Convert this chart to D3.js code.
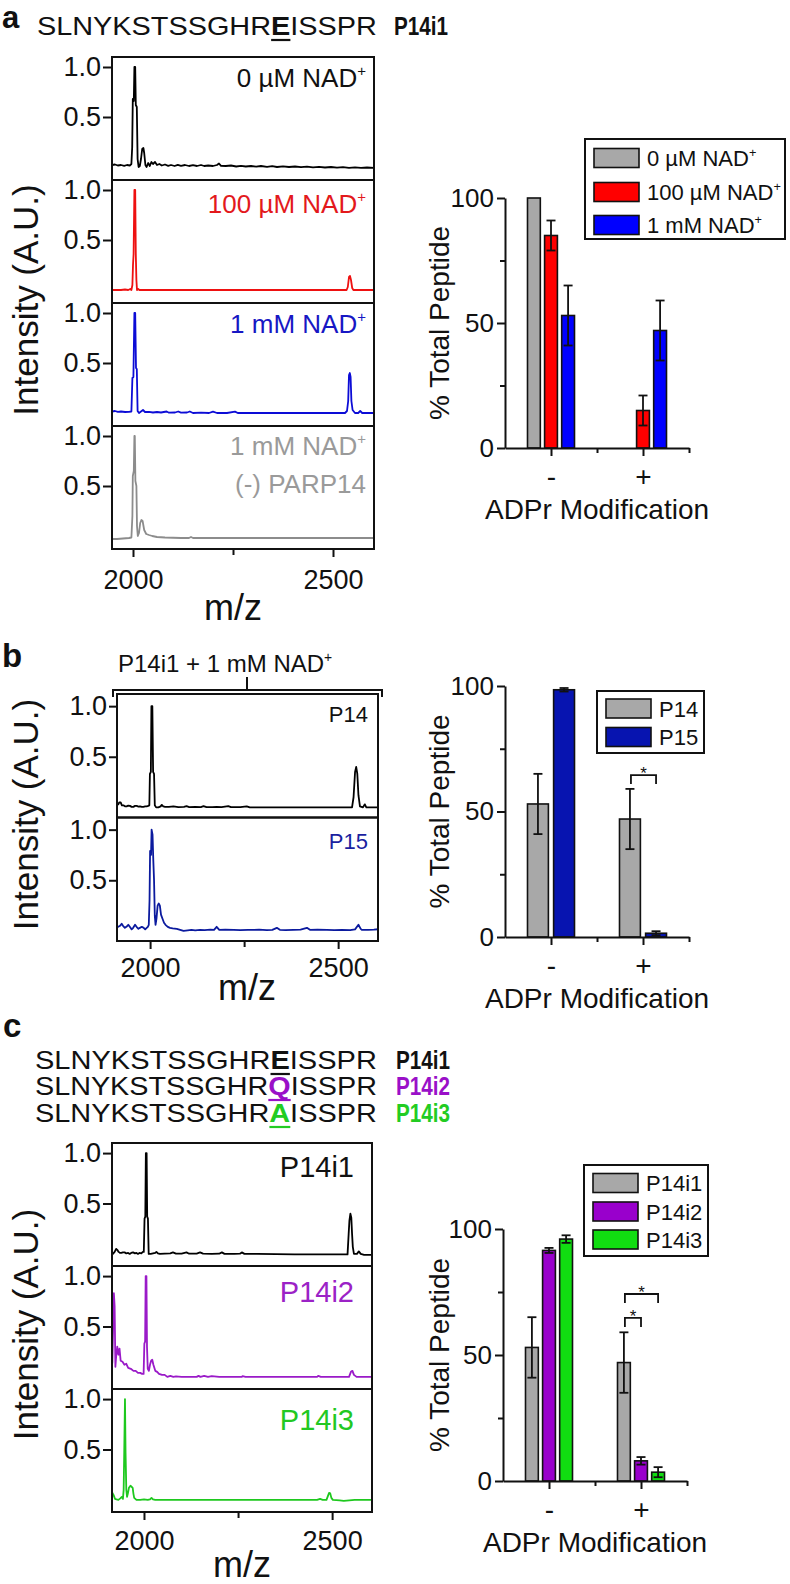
<!DOCTYPE html>
<html><head><meta charset="utf-8">
<script src="https://cdn.jsdelivr.net/npm/d3@7"></script>
<style>body{margin:0;background:#fff} svg{display:block} text{font-family:'Liberation Sans',Arial,Helvetica,sans-serif}</style>
</head><body><svg id="chart" width="790" height="1584"></svg>
<script>
// ---------------- DATA ----------------
const spectraYTicks = [0.5, 1.0];
const spectraXTicks = [2000, 2500];
const spectraXMinor = [2250];
const barYTicks = [0, 50, 100];
const barYMinor = [25, 75];
const barCategories = ["-", "+"];

// panel a spectra  [m/z, normalized intensity]
const specA_0uM = [[1948,0.02],[1955,0.025],[1962,0.015],[1970,0.02],[1978,0.012],[1985,0.02],[1992,0.015],[1996,0.03],[1998,0.2],[1999.5,0.68],[2002,0.66],[2003.5,1.0],[2005.5,1.0],[2007,0.62],[2009.5,0.6],[2011.5,0.08],[2014,0.0],[2017,0.01],[2020,0.08],[2023,0.18],[2026,0.19],[2028,0.14],[2031,0.02],[2034,0.0],[2038,0.04],[2042,0.01],[2046,0.05],[2050,0.03],[2055,0.05],[2060,0.02],[2066,0.03],[2072,0.015],[2080,0.025],[2088,0.012],[2095,0.02],[2104,0.01],[2112,0.022],[2120,0.012],[2130,0.02],[2140,0.01],[2150,0.018],[2160,0.01],[2170,0.02],[2178,0.01],[2188,0.015],[2200,0.01],[2210,0.02],[2215,0.035],[2220,0.012],[2232,0.01],[2245,0.015],[2258,0.005],[2270,0.012],[2282,0.005],[2295,0.01],[2308,0.003],[2320,0.01],[2335,0.002],[2348,0.008],[2360,0.0],[2375,0.007],[2390,0.0],[2405,0.005],[2420,-0.002],[2435,0.004],[2450,-0.004],[2465,0.002],[2480,-0.005],[2495,0.0],[2510,-0.006],[2525,-0.002],[2540,-0.008],[2555,-0.004],[2570,-0.008],[2585,-0.005],[2603,-0.008]];
const specA_100uM = [[1948,0],[1970,0],[1980,0.005],[1988,0],[1993,0.01],[1996,0],[1998.5,0.05],[2000,0.25],[2001.5,0.36],[2003.5,1.0],[2005.5,1.0],[2007,0.36],[2008.5,0.1],[2010,0.0],[2013,0.01],[2016,0.0],[2030,0.0],[2100,0.0],[2200,0.0],[2300,0.0],[2400,0.0],[2500,0.0],[2534,0.0],[2537,0.03],[2540,0.13],[2542.5,0.14],[2545,0.1],[2548,0.02],[2551,0.0],[2603,0.0]];
const specA_1mM = [[1948,0.015],[1955,0.02],[1962,0.012],[1970,0.015],[1980,0.01],[1990,0.012],[1996,0.015],[1998.5,0.35],[2001,0.36],[2003.5,1.0],[2005.5,1.0],[2007.5,0.45],[2009.5,0.44],[2011.5,0.02],[2015,0.0],[2020,0.015],[2025,0.03],[2030,0.01],[2040,0.012],[2050,0.005],[2060,0.01],[2070,0.005],[2084,0.015],[2090,0.003],[2105,0.005],[2113,0.015],[2120,0.003],[2135,0.005],[2142,0.015],[2150,0.0],[2170,0.003],[2190,0.0],[2200,0.014],[2210,0.0],[2235,0.0],[2255,0.014],[2262,0.0],[2300,0.0],[2400,0.0],[2500,0.0],[2530,0.0],[2535,0.02],[2538,0.12],[2540,0.38],[2542,0.40],[2544,0.36],[2546,0.12],[2549,0.03],[2555,0.0],[2563,0.0],[2568,0.02],[2573,0.0],[2603,0.0]];
const specA_noPARP = [[1948,-0.03],[1960,-0.03],[1975,-0.025],[1990,-0.02],[1996,-0.015],[1998.5,0.2],[1999.5,0.6],[2002,0.65],[2003.5,1.0],[2004.5,1.0],[2006,0.55],[2008.5,0.5],[2010,0.1],[2012,0.0],[2015,0.03],[2018,0.13],[2021,0.16],[2024,0.15],[2028,0.06],[2033,0.02],[2040,0.01],[2048,0.0],[2060,-0.01],[2080,-0.015],[2120,-0.02],[2140,-0.02],[2145,-0.01],[2150,-0.02],[2200,-0.02],[2300,-0.02],[2400,-0.02],[2500,-0.02],[2603,-0.02]];

// panel b spectra
const specB_P14 = [[1913,0.03],[1915.5,0.03],[1918,0.05],[1921.7,0.05],[1925,0.02],[1929,0.02],[1933,0.01],[1937.7,0.01],[1942,0.018],[1946.5,0.015],[1951,0.005],[1955.4,0.005],[1960,0.015],[1964.3,0.015],[1968,0.008],[1973,0.01],[1978,0.004],[1982,0.005],[1987,0.01],[1991,0.01],[1995,0.015],[1998,0.02],[1999.5,0.33],[2002,0.35],[2003.5,1.0],[2006,1.0],[2008,0.35],[2010.5,0.33],[2012.5,0.02],[2016,0.0],[2022,0.0],[2028,0.01],[2031,0.025],[2035,0.01],[2040,0.005],[2050,0.005],[2062,0.01],[2075,0.003],[2090,0.005],[2097,0.012],[2104,0.003],[2120,0.004],[2135,0.003],[2142,0.012],[2150,0.002],[2165,0.003],[2177,0.005],[2190,0.002],[2208,0.012],[2215,0.002],[2240,0.002],[2257,0.01],[2265,0.0],[2300,0.0],[2350,0.001],[2400,0.0],[2450,0.001],[2500,0.0],[2537,0.0],[2541,0.1],[2545,0.35],[2548,0.40],[2551,0.33],[2554,0.12],[2558,0.01],[2566,0.0],[2571,0.03],[2575,0.0],[2606,0.0]];
const specB_P15 = [[1913,0.04],[1915.5,0.04],[1920,0.05],[1924.4,0.07],[1928,0.05],[1933,0.03],[1937,0.04],[1942,0.06],[1946,0.04],[1951,0.015],[1955,0.03],[1960,0.06],[1964,0.04],[1969,0.02],[1973,0.03],[1978,0.04],[1983,0.03],[1987,0.015],[1991,0.03],[1994,0.04],[1996.5,0.06],[1998.5,0.3],[2000,0.79],[2002.5,0.75],[2004,1.0],[2006.5,0.95],[2008.5,0.70],[2010.5,0.5],[2012.5,0.15],[2014.5,0.06],[2017,0.12],[2020,0.25],[2023,0.27],[2026,0.25],[2029,0.16],[2033,0.12],[2037,0.08],[2041,0.06],[2047,0.04],[2053,0.03],[2060,0.025],[2071,0.02],[2080,0.01],[2089,0.0],[2100,0.005],[2110,0.01],[2120,0.005],[2133,0.01],[2145,0.008],[2160,0.012],[2170,0.01],[2177,0.04],[2184,0.01],[2200,0.012],[2222,0.01],[2240,0.008],[2260,0.01],[2275,0.01],[2290,0.012],[2310,0.008],[2325,0.01],[2337,0.03],[2345,0.01],[2360,0.008],[2381,0.01],[2400,0.012],[2417,0.03],[2425,0.01],[2445,0.012],[2470,0.01],[2490,0.008],[2510,0.01],[2532,0.007],[2545,0.015],[2554,0.06],[2560,0.02],[2563,0.01],[2580,0.01],[2595,0.012],[2606,0.016]];

// panel c spectra
const specC_P14i1 = [[1915,0.0],[1917.4,0.0],[1922,0.02],[1926,0.05],[1929,0.04],[1932.6,0.02],[1936,0.01],[1939.7,0.01],[1944,0.015],[1948.6,0.015],[1953,0.005],[1958,0.01],[1962,0.0],[1966,0.01],[1971,0.015],[1976,0.005],[1980,0.01],[1984,0.0],[1988,0.01],[1993,0.005],[1997,0.02],[1999.5,0.02],[2001.5,0.35],[2003.5,0.37],[2005,1.0],[2007,1.0],[2008.5,0.37],[2010.5,0.35],[2012.5,0.0],[2018,0.0],[2024,0.005],[2030,0.01],[2033,0.02],[2037,0.005],[2042,0.0],[2055,0.003],[2070,0.005],[2077,0.015],[2085,0.002],[2100,0.003],[2113,0.015],[2120,0.002],[2140,0.003],[2149,0.015],[2157,0.002],[2180,0.0],[2200,0.002],[2207,0.015],[2214,0.0],[2240,0.0],[2255,0.002],[2260,0.015],[2267,0.0],[2300,0.0],[2400,-0.005],[2500,-0.005],[2541,-0.005],[2544,0.2],[2546,0.33],[2548.6,0.40],[2551,0.36],[2553,0.2],[2555,0.07],[2558,0.0],[2566,0.0],[2571,0.025],[2576,0.0],[2585,-0.01],[2606,-0.01]];
const specC_P14i2 = [[1915,0.12],[1916,0.15],[1918,0.5],[1920,0.83],[1922,0.7],[1924,0.1],[1926,0.2],[1929,0.30],[1932,0.22],[1935,0.28],[1938,0.16],[1943,0.15],[1948,0.12],[1953,0.13],[1958,0.09],[1965,0.08],[1972,0.06],[1978,0.06],[1984,0.04],[1990,0.04],[1995,0.03],[1999,0.03],[2001,0.33],[2003,0.35],[2004.5,1.0],[2006.5,1.0],[2008,0.3],[2010,0.08],[2013,0.06],[2016,0.12],[2019,0.16],[2022,0.17],[2025,0.12],[2030,0.06],[2035,0.05],[2040,0.03],[2048,0.02],[2055,0.02],[2062,0.0],[2070,0.01],[2078,0.0],[2085,0.005],[2100,0.0],[2140,0.0],[2145,0.01],[2150,0.0],[2160,0.01],[2170,0.0],[2180,0.008],[2200,0.0],[2260,0.0],[2262,0.008],[2270,0.0],[2400,0.0],[2460,0.0],[2463,0.01],[2470,0.0],[2545,0.0],[2550,0.05],[2554,0.06],[2558,0.02],[2565,0.0],[2606,0.0]];
const specC_P14i3 = [[1914,0.1],[1916,0.07],[1919,0.05],[1923,0.01],[1927,0.005],[1932,0.0],[1937,0.015],[1941,0.03],[1944,0.01],[1946,0.1],[1947.5,0.47],[1949.5,1.0],[1951,0.47],[1953,0.1],[1955,0.03],[1957,0.06],[1960,0.12],[1964,0.14],[1967,0.13],[1970,0.12],[1972,0.06],[1974,0.02],[1980,0.0],[1990,0.0],[2000,0.005],[2010,0.0],[2016,0.005],[2020,0.02],[2024,0.005],[2030,0.0],[2100,0.0],[2200,0.0],[2300,0.0],[2400,0.0],[2460,0.0],[2468,0.01],[2475,0.0],[2485,0.0],[2489,0.04],[2492,0.07],[2495,0.065],[2498,0.02],[2502,0.0],[2520,-0.005],[2531,-0.01],[2560,0.0],[2608,0.0]];

// bar charts (% total peptide, mean and error) per category ["-","+"]
const seriesA = ["0 µM NAD+", "100 µM NAD+", "1 mM NAD+"];
const pctA_0uM = [100, 0],  errA_0uM = [0, 0];
const pctA_100uM = [85, 15], errA_100uM = [6, 6];
const pctA_1mM = [53, 47],  errA_1mM = [12, 12];

const seriesB = ["P14", "P15"];
const pctB_P14 = [53, 47],  errB_P14 = [12, 12];
const pctB_P15 = [98.5, 1.5], errB_P15 = [0.7, 0.8];

const seriesC = ["P14i1", "P14i2", "P14i3"];
const pctC_P14i1 = [53, 47],  errC_P14i1 = [12, 12];
const pctC_P14i2 = [91.5, 8], errC_P14i2 = [1, 1.5];
const pctC_P14i3 = [96, 3.5], errC_P14i3 = [1.5, 2];

// significance brackets: [category, series from, series to, level]
const sigB = [["+", "P14", "P15", 64.5]];
const sigC = [["+", "P14i1", "P14i2", 64.7], ["+", "P14i1", "P14i3", 74.2]];

// ---------------- DRAWING ----------------
const svg = d3.select('#chart');
const INK = '#111';

function addText(parent, x, y, parts, o) {
  o = o || {};
  const size = o.size || 24;
  const tf = `translate(${x},${y})` + (o.rotate ? ` rotate(${o.rotate})` : '');
  const g = parent.append('g').attr('transform', tf);
  const t = g.append('text').attr('font-size', size).attr('fill', o.color || INK)
    .attr('text-anchor', o.anchor || 'start');
  if (o.bold) t.attr('font-weight', 'bold');
  const under = [];
  let idx = 0;
  parts.forEach(p => {
    if (typeof p === 'string') p = {t: p};
    const ts = t.append('tspan').text(p.t);
    if (p.bold) ts.attr('font-weight', 'bold');
    if (p.color) ts.attr('fill', p.color);
    if (p.sup) ts.attr('font-size', size * 0.58).attr('dy', -size * 0.42);
    if (p.u) under.push([idx, p.t.length, p.color || o.color || INK]);
    idx += p.t.length;
  });
  under.forEach(([i, n, c]) => {
    const a = t.node().getExtentOfChar(i), b = t.node().getExtentOfChar(i + n - 1);
    g.append('line').attr('x1', a.x).attr('x2', b.x + b.width)
      .attr('y1', size * 0.2).attr('y2', size * 0.2).attr('stroke', c).attr('stroke-width', 2.2);
  });
  if (o.width) {
    const w = t.node().getComputedTextLength();
    g.attr('transform', `translate(${x},${y}) scale(${o.width / w},1)`);
  }
  return g;
}
function supParts(s) {
  return s.endsWith('+') ? [s.slice(0, -1), {t: '+', sup: true}] : [s];
}
function styleAxis(g, size) {
  g.attr('font-family', null).attr('font-size', size);
  g.selectAll('line').attr('stroke', INK).attr('stroke-width', 2);
  g.selectAll('.domain').attr('stroke', INK).attr('stroke-width', 2);
  g.selectAll('text').attr('fill', INK);
}

function drawSpectra(cfg) {
  const x = d3.scaleLinear().domain(cfg.xDomain).range([cfg.left, cfg.right]);
  let bottom = 0;
  cfg.panels.forEach((p, i) => {
    const y = d3.scaleLinear().domain(cfg.yDomain).range([p.top + cfg.h, p.top]);
    bottom = p.top + cfg.h;
    const cid = `${cfg.id}-clip-${i}`;
    svg.append('clipPath').attr('id', cid).append('rect')
      .attr('x', cfg.left).attr('y', p.top).attr('width', cfg.right - cfg.left).attr('height', cfg.h);
    svg.append('path').datum(p.data).attr('fill', 'none').attr('stroke', p.color)
      .attr('stroke-width', 1.8).attr('stroke-linejoin', 'round').attr('clip-path', `url(#${cid})`)
      .attr('d', d3.line().x(d => x(d[0])).y(d => y(d[1])));
    const ay = svg.append('g').attr('transform', `translate(${cfg.left},0)`)
      .call(d3.axisLeft(y).tickValues(spectraYTicks).tickFormat(d3.format('.1f'))
        .tickSize(cfg.tick).tickSizeOuter(0).tickPadding(2));
    ay.select('.domain').remove();
    styleAxis(ay, cfg.tickFont);
    svg.append('rect').attr('x', cfg.left).attr('y', p.top).attr('width', cfg.right - cfg.left)
      .attr('height', cfg.h).attr('fill', 'none').attr('stroke', INK).attr('stroke-width', 2);
    p.labels.forEach(l => addText(svg, cfg.labelX, p.top + l.dy, l.parts, {size: l.size, color: p.textColor, anchor: 'end'}));
  });
  const axb = svg.append('g').attr('transform', `translate(0,${bottom})`)
    .call(d3.axisBottom(x).tickValues(spectraXTicks).tickFormat(d3.format('d')).tickSize(8).tickSizeOuter(0));
  axb.select('.domain').remove();
  styleAxis(axb, cfg.xFont);
  axb.selectAll('text').attr('y', cfg.xLabOff).attr('dy', 0);
  const axm = svg.append('g').attr('transform', `translate(0,${bottom})`)
    .call(d3.axisBottom(x).tickValues(spectraXMinor).tickFormat('').tickSize(6).tickSizeOuter(0));
  axm.select('.domain').remove();
  styleAxis(axm, 10);
  addText(svg, cfg.mzX, bottom + cfg.mzOff, ['m/z'], {size: 36, anchor: 'middle'});
  addText(svg, 38, (cfg.panels[0].top + bottom) / 2 - 3, ['Intensity (A.U.)'], {size: 35, anchor: 'middle', rotate: -90});
}

function drawBars(cfg) {
  const xc = d3.scaleLinear().domain([-0.5, 1.5]).range([cfg.axisX, cfg.axisX + 184]);
  const y = d3.scaleLinear().domain([0, 100]).range([cfg.y0, cfg.y100]);
  const band = d3.scaleBand().domain(cfg.series).range([-23.5, 23.5]).paddingInner(cfg.pad);
  const bw = band.bandwidth();
  cfg.series.forEach((s, si) => {
    barCategories.forEach((c, ci) => {
      const v = cfg.values[si][ci], e = cfg.errs[si][ci];
      const bx = xc(ci) + band(s);
      svg.append('rect').attr('x', bx).attr('y', y(v)).attr('width', bw).attr('height', y(0) - y(v))
        .attr('fill', cfg.colors[si]).attr('stroke', INK).attr('stroke-width', 1.6);
      if (e > 0) {
        const cx = bx + bw / 2;
        const eg = svg.append('g').attr('stroke', INK).attr('stroke-width', 1.8);
        eg.append('line').attr('x1', cx).attr('x2', cx).attr('y1', y(v + e)).attr('y2', y(Math.max(0, v - e)));
        [v + e, Math.max(0, v - e)].forEach(yy => eg.append('line').attr('x1', cx - 4.5).attr('x2', cx + 4.5).attr('y1', y(yy)).attr('y2', y(yy)));
      }
    });
  });
  (cfg.sig || []).forEach(([cat, s1, s2, lvl]) => {
    const ci = barCategories.indexOf(cat);
    const x1 = xc(ci) + band(s1) + bw / 2 + 1, x2 = xc(ci) + band(s2) + bw / 2;
    const yt = y(lvl), yl = y(lvl) + 9;
    svg.append('path').attr('d', `M${x1},${yl}V${yt}H${x2}V${yl}`).attr('fill', 'none')
      .attr('stroke', INK).attr('stroke-width', 1.8);
    addText(svg, (x1 + x2) / 2, yt + 4, ['*'], {size: 17, anchor: 'middle'});
  });
  const ay = svg.append('g').attr('transform', `translate(${cfg.axisX},0)`)
    .call(d3.axisLeft(y).tickValues(barYTicks).tickSize(8).tickSizeOuter(0).tickPadding(3));
  styleAxis(ay, 26);
  const aym = svg.append('g').attr('transform', `translate(${cfg.axisX},0)`)
    .call(d3.axisLeft(y).tickValues(barYMinor).tickFormat('').tickSize(5).tickSizeOuter(0));
  aym.select('.domain').remove();
  styleAxis(aym, 10);
  const ax = svg.append('g').attr('transform', `translate(0,${cfg.y0})`)
    .call(d3.axisBottom(xc).tickValues([0, 1]).tickFormat(i => barCategories[i]).tickSize(8).tickSizeOuter(0));
  styleAxis(ax, 28);
  ax.selectAll('text').attr('y', 38).attr('dy', 0);
  const axm = svg.append('g').attr('transform', `translate(0,${cfg.y0})`)
    .call(d3.axisBottom(xc).tickValues([0.5, 1.5]).tickFormat('').tickSize(5).tickSizeOuter(0));
  axm.select('.domain').remove();
  styleAxis(axm, 10);
  addText(svg, xc(0.5), cfg.y0 + 71, ['ADPr Modification'], {size: 28, anchor: 'middle'});
  addText(svg, 449, (cfg.y0 + cfg.y100) / 2, ['% Total Peptide'], {size: 28, anchor: 'middle', rotate: -90});
  // legend
  const L = cfg.legend;
  svg.append('rect').attr('x', L.x).attr('y', L.y).attr('width', L.w).attr('height', L.h)
    .attr('fill', '#fff').attr('stroke', INK).attr('stroke-width', 2);
  cfg.series.forEach((s, i) => {
    const cy = L.rows[i];
    svg.append('rect').attr('x', L.x + 9).attr('y', cy - 9.5).attr('width', 45).attr('height', 19)
      .attr('fill', cfg.colors[i]).attr('stroke', INK).attr('stroke-width', 1.6);
    addText(svg, L.x + 62, cy + 8, supParts(s), {size: 22});
  });
}

// ---- Panel a ----
addText(svg, 2, 28, ['a'], {size: 31, bold: true});
addText(svg, 37, 35, ['SLNYKSTSSGHR', {t: 'E', bold: true, u: true}, 'ISSPR'], {size: 25, width: 340});
addText(svg, 394, 35, ['P14i1'], {size: 25, bold: true, width: 54});

drawSpectra({
  id: 'a', left: 112, right: 374, xDomain: [1947.5, 2602.5], yDomain: [-0.13, 1.1], h: 123,
  tick: 9, tickFont: 27, xFont: 27, xLabOff: 40, mzX: 233, mzOff: 71, labelX: 366,
  panels: [
    {top: 57, data: specA_0uM, color: '#000', textColor: INK, labels: [{dy: 30, size: 26, parts: ['0 µM NAD', {t: '+', sup: true}]}]},
    {top: 180, data: specA_100uM, color: '#ee1111', textColor: '#e3191c', labels: [{dy: 33, size: 26, parts: ['100 µM NAD', {t: '+', sup: true}]}]},
    {top: 303, data: specA_1mM, color: '#0c0cd6', textColor: '#1717c4', labels: [{dy: 30, size: 26, parts: ['1 mM NAD', {t: '+', sup: true}]}]},
    {top: 426, data: specA_noPARP, color: '#8c8c8c', textColor: '#9a9a9a', labels: [{dy: 29, size: 26, parts: ['1 mM NAD', {t: '+', sup: true}]}, {dy: 67, size: 26, parts: ['(-) PARP14']}]}
  ]
});

drawBars({
  axisX: 505, y0: 448, y100: 198, pad: 0.25,
  series: seriesA, values: [pctA_0uM, pctA_100uM, pctA_1mM], errs: [errA_0uM, errA_100uM, errA_1mM],
  colors: ['#a8a8a8', '#ff0000', '#0000ff'],
  legend: {x: 585, y: 139, w: 200, h: 100, rows: [158, 192, 225]}
});

// ---- Panel b ----
addText(svg, 2, 667, ['b'], {size: 33, bold: true});
addText(svg, 118, 672, ['P14i1 + 1 mM NAD', {t: '+', sup: true}], {size: 24});
svg.append('path').attr('d', 'M113,697V690H382V697M247,690V677').attr('fill', 'none').attr('stroke', INK).attr('stroke-width', 2);

drawSpectra({
  id: 'b', left: 117, right: 378, xDomain: [1912, 2606], yDomain: [-0.1, 1.12], h: 123.5,
  tick: 8, tickFont: 27, xFont: 27, xLabOff: 36, mzX: 247, mzOff: 59, labelX: 368,
  panels: [
    {top: 694, data: specB_P14, color: '#000', textColor: INK, labels: [{dy: 28, size: 22, parts: ['P14']}]},
    {top: 817.5, data: specB_P15, color: '#0b1a9e', textColor: '#1a1fa0', labels: [{dy: 31, size: 22, parts: ['P15']}]}
  ]
});

drawBars({
  axisX: 505, y0: 937, y100: 686, pad: 0.2,
  series: seriesB, values: [pctB_P14, pctB_P15], errs: [errB_P14, errB_P15],
  colors: ['#a8a8a8', '#0714b0'], sig: sigB,
  legend: {x: 597, y: 691, w: 107, h: 62, rows: [708.5, 737]}
});

// ---- Panel c ----
addText(svg, 3, 1037, ['c'], {size: 33, bold: true});
addText(svg, 35, 1069, ['SLNYKSTSSGHR', {t: 'E', bold: true, u: true}, 'ISSPR'], {size: 25, width: 342});
addText(svg, 35, 1095, ['SLNYKSTSSGHR', {t: 'Q', bold: true, u: true, color: '#9a10c8'}, 'ISSPR'], {size: 25, width: 342});
addText(svg, 35, 1122, ['SLNYKSTSSGHR', {t: 'A', bold: true, u: true, color: '#22cc22'}, 'ISSPR'], {size: 25, width: 342});
addText(svg, 396, 1069, ['P14i1'], {size: 25, bold: true, width: 54});
addText(svg, 396, 1095, ['P14i2'], {size: 25, bold: true, color: '#9a10c8', width: 54});
addText(svg, 396, 1122, ['P14i3'], {size: 25, bold: true, color: '#22cc22', width: 54});

drawSpectra({
  id: 'c', left: 112, right: 372, xDomain: [1915, 2606], yDomain: [-0.12, 1.1], h: 123,
  tick: 9, tickFont: 27, xFont: 27, xLabOff: 38, mzX: 242, mzOff: 65, labelX: 354,
  panels: [
    {top: 1143, data: specC_P14i1, color: '#000', textColor: INK, labels: [{dy: 34, size: 29, parts: ['P14i1']}]},
    {top: 1266, data: specC_P14i2, color: '#9a1ac8', textColor: '#9b22c6', labels: [{dy: 36, size: 29, parts: ['P14i2']}]},
    {top: 1389, data: specC_P14i3, color: '#1ec81e', textColor: '#22c822', labels: [{dy: 41, size: 29, parts: ['P14i3']}]}
  ]
});

drawBars({
  axisX: 503, y0: 1481, y100: 1229, pad: 0.25,
  series: seriesC, values: [pctC_P14i1, pctC_P14i2, pctC_P14i3], errs: [errC_P14i1, errC_P14i2, errC_P14i3],
  colors: ['#a8a8a8', '#9900cc', '#11dd11'], sig: sigC,
  legend: {x: 584, y: 1165, w: 124, h: 91, rows: [1183, 1211.5, 1239.5]}
});
</script></body></html>
